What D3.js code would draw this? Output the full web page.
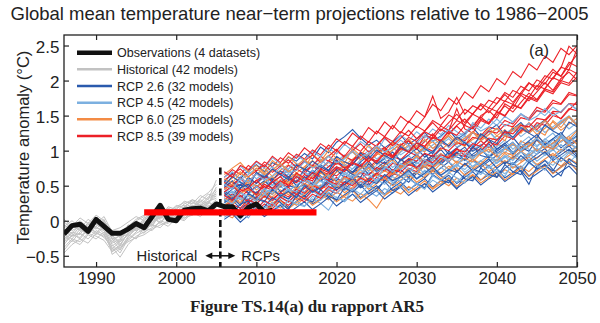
<!DOCTYPE html>
<html>
<head>
<meta charset="utf-8">
<script src="https://cdn.jsdelivr.net/npm/d3@7"></script>
<style>
  html, body { margin: 0; padding: 0; background: #fff; }
  svg { display: block; font-family: "Liberation Sans", Arial, sans-serif; }
</style>
</head>
<body>
<svg id="chart" width="600" height="323"></svg>
<script>
// values (°C, relative to 1986-2005)
const histStart = 1986;
const rcpStart = 2006;

const observations = [-0.19,-0.07,-0.05,-0.15,0.02,-0.08,-0.18,-0.18,-0.12,-0.04,-0.10,0.06,0.22,0.02,0.00,0.15,0.17,0.18,0.14,0.24,0.20,0.20,0.07,0.19,0.24,0.12,0.15];

const histModels = [
  [-0.10,-0.04,-0.12,0.02,-0.06,-0.02,-0.22,-0.30,-0.12,-0.04,-0.10,0.04,0.08,0.02,0.14,0.10,0.22,0.16,0.28,0.32],
  [-0.30,-0.22,-0.18,-0.26,-0.14,-0.20,-0.42,-0.36,-0.28,-0.18,-0.12,-0.06,-0.10,0.02,0.04,0.10,0.08,0.18,0.14,0.22],
  [0.02,-0.08,0.04,-0.04,0.08,0.00,-0.14,-0.10,-0.02,0.06,0.00,0.12,0.18,0.10,0.22,0.18,0.30,0.26,0.38,0.34],
  [-0.42,-0.28,-0.34,-0.20,-0.26,-0.16,-0.38,-0.52,-0.34,-0.22,-0.16,-0.10,-0.02,-0.08,0.04,0.00,0.12,0.06,0.16,0.12],
  [-0.18,-0.10,-0.02,-0.12,0.00,-0.10,-0.30,-0.20,-0.14,0.00,0.06,-0.04,0.12,0.16,0.08,0.20,0.14,0.28,0.20,0.30],
  [-0.22,-0.30,-0.16,-0.08,-0.18,-0.04,-0.48,-0.40,-0.22,-0.12,-0.02,0.06,-0.04,0.10,0.16,0.06,0.20,0.24,0.18,0.26],
  [-0.06,-0.14,-0.08,-0.16,-0.02,-0.12,-0.20,-0.34,-0.18,-0.10,0.02,0.08,0.02,0.14,0.20,0.26,0.18,0.32,0.40,0.52],
  [-0.34,-0.20,-0.24,-0.10,-0.16,-0.24,-0.36,-0.28,-0.06,-0.14,-0.08,0.00,0.06,0.00,0.12,0.16,0.10,0.14,0.26,0.20],
  [-0.12,-0.18,-0.06,-0.14,-0.08,0.02,-0.26,-0.22,-0.20,-0.06,-0.12,0.10,0.04,0.18,0.12,0.24,0.30,0.22,0.34,0.44],
  [-0.26,-0.16,-0.20,-0.02,-0.10,-0.14,-0.34,-0.46,-0.26,-0.16,-0.04,-0.08,0.10,0.06,0.02,0.12,0.22,0.18,0.10,0.24],
  [-0.08,0.00,-0.10,-0.06,0.04,-0.06,-0.18,-0.16,-0.08,0.02,0.08,0.14,0.06,0.20,0.16,0.28,0.24,0.36,0.30,0.58],
  [-0.38,-0.26,-0.30,-0.18,-0.22,-0.28,-0.44,-0.38,-0.30,-0.24,-0.20,-0.12,-0.06,-0.02,0.06,0.02,0.16,0.10,0.22,0.16],
  [-0.14,-0.22,-0.08,-0.16,-0.04,-0.14,-0.32,-0.26,-0.10,-0.14,0.00,-0.06,0.10,0.04,0.16,0.10,0.26,0.20,0.32,0.38],
  [-0.28,-0.18,-0.26,-0.12,-0.20,-0.08,-0.26,-0.42,-0.24,-0.08,-0.14,0.04,-0.02,0.08,0.02,0.18,0.12,0.22,0.28,0.18],
  [-0.02,-0.10,0.00,-0.10,-0.04,0.06,-0.16,-0.24,-0.06,-0.12,0.04,0.10,0.14,0.08,0.18,0.22,0.16,0.30,0.24,0.42],
  [-0.46,-0.34,-0.26,-0.32,-0.18,-0.22,-0.40,-0.30,-0.20,-0.26,-0.10,-0.14,0.00,-0.04,0.08,0.04,0.08,0.16,0.12,0.28],
  [-0.16,-0.06,-0.14,-0.04,-0.12,0.00,-0.24,-0.36,-0.16,-0.02,-0.06,0.08,0.14,0.06,0.10,0.20,0.28,0.20,0.26,0.36],
  [-0.20,-0.26,-0.12,-0.20,-0.08,-0.18,-0.44,-0.34,-0.18,-0.10,-0.18,-0.02,0.04,0.12,0.04,0.14,0.18,0.12,0.24,0.48]
];

const rcp26 = [
  [0.42,0.35,0.51,0.47,0.38,0.55,0.61,0.48,0.57,0.66,0.59,0.72,0.64,0.55,0.70,0.78,0.69,0.74,0.85,0.72,0.80,0.91,0.77,0.86,0.95,0.83,0.90,1.02,0.88,0.97,1.05,0.92,0.99,1.10,0.96,1.04,1.12,0.98,1.07,1.15,1.03,1.11,1.20,1.06,1.14],
  [0.12,0.20,0.08,0.18,0.25,0.15,0.22,0.30,0.19,0.28,0.36,0.24,0.31,0.40,0.29,0.37,0.45,0.33,0.42,0.50,0.38,0.47,0.55,0.44,0.52,0.60,0.48,0.57,0.65,0.53,0.62,0.70,0.58,0.66,0.74,0.61,0.69,0.78,0.64,0.73,0.81,0.68,0.77,0.85,0.72],
  [0.55,0.68,0.60,0.72,0.80,0.70,0.83,0.77,0.91,0.85,0.96,0.88,1.05,0.97,1.12,1.20,1.30,1.18,1.08,1.15,1.04,1.12,1.22,1.09,1.17,1.26,1.13,1.21,1.30,1.16,1.24,1.33,1.20,1.29,1.37,1.22,1.31,1.40,1.27,1.35,1.44,1.30,1.39,1.48,1.36],
  [0.30,0.24,0.36,0.29,0.41,0.35,0.44,0.38,0.31,0.46,0.52,0.43,0.49,0.58,0.47,0.55,0.63,0.51,0.60,0.68,0.57,0.65,0.73,0.62,0.70,0.78,0.66,0.75,0.84,0.71,0.80,0.88,0.76,0.85,0.93,0.81,0.90,0.99,0.86,0.95,1.03,0.89,0.98,1.07,0.94],
  [0.22,0.30,0.17,0.26,0.34,0.28,0.20,0.36,0.31,0.42,0.35,0.46,0.39,0.33,0.48,0.44,0.56,0.47,0.53,0.42,0.58,0.51,0.63,0.55,0.68,0.61,0.72,0.64,0.57,0.45,0.66,0.74,0.69,0.79,0.62,0.75,0.83,0.70,0.52,0.78,0.86,0.73,0.64,0.88,0.80],
  [0.48,0.57,0.45,0.62,0.53,0.66,0.58,0.71,0.63,0.55,0.74,0.67,0.80,0.72,0.86,0.77,0.69,0.84,0.93,0.81,0.89,0.98,0.86,0.94,1.03,0.91,0.99,1.08,0.95,1.04,1.12,0.99,1.07,1.16,1.02,1.10,1.19,1.05,1.14,1.23,1.09,1.17,1.26,1.12,1.21],
  [0.02,0.10,-0.02,0.08,0.15,0.06,0.14,0.22,0.11,0.19,0.27,0.16,0.24,0.33,0.21,0.30,0.38,0.26,0.35,0.43,0.31,0.40,0.48,0.36,0.45,0.53,0.41,0.50,0.58,0.46,0.55,0.63,0.51,0.60,0.68,0.56,0.64,0.72,0.59,0.67,0.75,0.62,0.70,0.78,0.66],
  [0.35,0.45,0.52,0.40,0.48,0.57,0.46,0.54,0.63,0.50,0.59,0.68,0.56,0.65,0.73,0.61,0.70,0.79,0.66,0.75,0.84,0.71,0.80,0.88,0.76,0.85,0.93,0.81,0.90,0.98,0.86,0.95,1.03,0.90,0.99,1.08,0.95,1.04,1.12,0.99,1.08,1.17,1.04,1.13,1.21],
  [0.40,0.29,0.47,0.52,0.36,0.44,0.58,0.41,0.50,0.47,0.63,0.52,0.71,0.60,0.57,0.74,0.66,0.62,0.81,0.70,0.77,0.69,0.88,0.79,0.85,0.96,0.80,0.84,0.99,0.91,0.87,1.06,0.93,0.90,1.02,1.11,0.97,1.05,0.99,1.16,1.08,1.02,1.19,1.10,1.15],
  [0.18,0.09,0.24,0.28,0.13,0.20,0.33,0.26,0.16,0.37,0.31,0.27,0.44,0.35,0.30,0.47,0.41,0.51,0.38,0.46,0.56,0.43,0.49,0.61,0.52,0.47,0.66,0.58,0.54,0.71,0.60,0.57,0.75,0.66,0.62,0.80,0.70,0.66,0.84,0.74,0.79,0.71,0.90,0.81,0.77],
  [0.50,0.63,0.55,0.47,0.69,0.62,0.74,0.66,0.59,0.80,0.73,0.85,0.77,0.71,0.92,0.84,0.79,0.97,0.88,1.01,0.93,0.87,1.06,0.98,1.12,1.03,0.96,1.15,1.07,1.20,1.11,1.04,1.24,1.16,1.10,1.29,1.19,1.33,1.25,1.18,1.37,1.28,1.22,1.41,1.34],
  [0.26,0.33,0.22,0.39,0.31,0.27,0.45,0.35,0.42,0.33,0.50,0.41,0.47,0.55,0.44,0.52,0.61,0.48,0.58,0.53,0.66,0.57,0.63,0.72,0.60,0.68,0.77,0.65,0.73,0.69,0.82,0.71,0.79,0.88,0.75,0.84,0.80,0.93,0.83,0.90,0.98,0.86,0.94,1.02,0.91]
];

const rcp45 = [
  [0.28,0.36,0.25,0.39,0.33,0.44,0.37,0.49,0.41,0.35,0.52,0.46,0.58,0.50,0.61,0.55,0.66,0.59,0.70,0.63,0.74,0.67,0.79,0.71,0.83,0.76,0.87,0.80,0.91,0.84,0.95,0.88,1.00,0.92,1.04,0.97,1.09,1.01,1.13,1.05,1.17,1.09,1.21,1.14,1.25],
  [0.58,0.50,0.63,0.71,0.60,0.68,0.77,0.65,0.74,0.82,0.71,0.80,0.88,0.77,0.85,0.94,0.83,0.91,1.00,0.88,0.97,1.05,0.94,1.02,1.11,0.99,1.08,1.16,1.04,1.13,1.21,1.10,1.18,1.27,1.15,1.24,1.32,1.20,1.29,1.37,1.26,1.34,1.43,1.31,1.40],
  [0.05,0.12,0.02,0.15,0.09,0.20,0.14,0.24,0.17,0.28,0.21,0.31,0.25,0.15,0.34,0.27,0.38,0.31,0.42,0.35,0.46,0.39,0.50,0.43,0.54,0.47,0.58,0.51,0.62,0.55,0.66,0.59,0.70,0.63,0.74,0.67,0.78,0.71,0.82,0.75,0.86,0.79,0.90,0.83,0.94],
  [0.40,0.48,0.56,0.45,0.53,0.62,0.50,0.58,0.67,0.55,0.63,0.72,0.60,0.69,0.77,0.65,0.74,0.83,0.71,0.79,0.88,0.76,0.85,0.93,0.81,0.90,0.99,0.87,0.95,1.04,0.92,1.01,1.09,0.97,1.06,1.15,1.02,1.11,1.20,1.07,1.16,1.25,1.12,1.21,1.30],
  [0.70,0.62,0.78,0.68,0.84,0.75,0.90,0.81,0.73,0.93,0.86,0.99,0.91,1.04,0.95,1.09,1.00,1.13,1.05,0.98,1.17,1.09,1.22,1.14,1.27,1.18,1.31,1.23,1.36,1.27,1.21,1.40,1.32,1.45,1.36,1.49,1.41,1.53,1.45,1.58,1.50,1.62,1.54,1.67,1.59],
  [0.18,0.26,0.34,0.22,0.31,0.39,0.28,0.36,0.44,0.33,0.41,0.50,0.38,0.46,0.55,0.43,0.52,0.60,0.48,0.57,0.65,0.54,0.62,0.70,0.59,0.67,0.76,0.64,0.72,0.81,0.69,0.78,0.86,0.75,0.83,0.92,0.80,0.88,0.97,0.85,0.94,1.02,0.90,0.99,1.07],
  [0.45,0.39,0.52,0.60,0.49,0.57,0.51,0.64,0.72,0.61,0.69,0.63,0.76,0.84,0.72,0.80,0.74,0.87,0.95,0.83,0.91,0.85,0.98,1.06,0.94,1.02,0.96,1.09,1.17,1.05,1.13,1.07,1.20,1.28,1.16,1.24,1.18,1.31,1.39,1.27,1.35,1.29,1.42,1.50,1.38],
  [0.25,0.33,0.40,0.31,0.22,0.38,0.46,0.35,0.43,0.50,0.41,0.49,0.57,0.46,0.53,0.61,0.52,0.59,0.67,0.56,0.64,0.72,0.62,0.69,0.78,0.67,0.75,0.83,0.72,0.80,0.88,0.77,0.85,0.94,0.82,0.90,0.99,0.87,0.96,1.04,0.93,1.01,1.09,0.98,1.06],
  [0.62,0.70,0.58,0.66,0.75,0.64,0.73,0.81,0.70,0.79,0.87,0.76,0.84,0.93,0.81,0.90,0.98,0.87,0.95,1.04,0.92,1.01,1.09,0.98,1.06,1.15,1.03,1.12,1.20,1.09,1.17,1.26,1.14,1.23,1.31,1.20,1.28,1.37,1.25,1.34,1.42,1.31,1.39,1.48,1.36],
  [0.12,0.20,0.10,0.23,0.17,0.28,0.21,0.33,0.26,0.37,0.30,0.42,0.35,0.46,0.39,0.50,0.43,0.55,0.48,0.59,0.52,0.63,0.56,0.67,0.60,0.72,0.65,0.76,0.69,0.80,0.73,0.85,0.78,0.89,0.82,0.93,0.86,0.98,0.91,1.02,0.95,1.06,0.99,1.11,1.04],
  [0.33,0.42,0.30,0.37,0.49,0.40,0.46,0.55,0.43,0.51,0.60,0.54,0.48,0.65,0.59,0.70,0.62,0.67,0.78,0.69,0.75,0.84,0.73,0.81,0.90,0.79,0.87,0.95,0.85,0.92,1.01,0.89,0.98,1.07,0.95,1.03,1.12,1.00,1.09,1.18,1.06,1.15,1.23,1.12,1.20],
  [0.08,0.17,0.13,0.04,0.21,0.18,0.26,0.13,0.30,0.24,0.20,0.35,0.29,0.41,0.33,0.28,0.46,0.38,0.51,0.42,0.37,0.55,0.47,0.60,0.52,0.45,0.64,0.57,0.69,0.61,0.54,0.73,0.66,0.78,0.70,0.63,0.83,0.75,0.88,0.79,0.72,0.92,0.84,0.97,0.89],
  [0.52,0.45,0.60,0.55,0.67,0.58,0.64,0.76,0.68,0.72,0.84,0.75,0.80,0.92,0.83,0.88,1.00,0.91,0.96,1.07,0.98,1.04,1.15,1.06,1.11,1.22,1.13,1.19,1.30,1.20,1.26,1.37,1.28,1.34,1.45,1.35,1.41,1.52,1.43,1.49,1.60,1.50,1.56,1.67,1.58],
  [0.31,0.24,0.40,0.35,0.28,0.46,0.39,0.52,0.45,0.41,0.57,0.50,0.63,0.55,0.49,0.67,0.60,0.73,0.64,0.58,0.77,0.70,0.82,0.74,0.68,0.87,0.79,0.92,0.83,0.77,0.96,0.88,1.01,0.93,0.86,1.05,0.97,1.10,1.02,0.95,1.14,1.06,1.19,1.11,1.04]
];

const rcp60 = [
  [0.27,0.35,0.22,0.31,0.40,0.33,0.42,0.36,0.45,0.39,0.48,0.41,0.51,0.44,0.55,0.48,0.58,0.51,0.61,0.55,0.64,0.58,0.68,0.61,0.71,0.65,0.74,0.68,0.78,0.71,0.81,0.75,0.85,0.78,0.88,0.82,0.92,0.85,0.95,0.89,0.99,0.92,1.02,0.96,1.06],
  [0.10,0.04,0.16,0.09,0.20,0.14,0.25,0.18,0.29,0.22,0.33,0.26,0.37,0.30,0.41,0.34,0.28,0.39,0.30,0.18,0.36,0.44,0.38,0.49,0.42,0.53,0.46,0.57,0.50,0.61,0.54,0.65,0.58,0.69,0.62,0.73,0.66,0.77,0.70,0.81,0.74,0.85,0.78,0.89,0.82],
  [0.52,0.61,0.70,0.57,0.66,0.75,0.63,0.72,0.80,0.68,0.77,0.86,0.74,0.83,0.91,0.79,0.88,0.97,0.85,0.94,1.02,0.90,0.99,1.08,0.96,1.05,1.13,1.01,1.10,1.19,1.07,1.16,1.24,1.12,1.21,1.30,1.18,1.27,1.35,1.23,1.32,1.41,1.29,1.38,1.46],
  [0.40,0.33,0.47,0.55,0.44,0.52,0.46,0.59,0.53,0.66,0.58,0.51,0.68,0.62,0.75,0.67,0.60,0.78,0.71,0.84,0.76,0.69,0.87,0.80,0.93,0.85,0.78,0.96,0.89,1.02,0.94,0.87,1.05,0.98,1.11,1.03,0.96,1.14,1.07,1.20,1.12,1.05,1.23,1.16,1.29],
  [0.15,0.23,0.31,0.20,0.28,0.36,0.25,0.33,0.41,0.30,0.38,0.46,0.35,0.43,0.51,0.40,0.48,0.56,0.45,0.53,0.61,0.50,0.58,0.66,0.55,0.63,0.71,0.60,0.68,0.76,0.65,0.73,0.81,0.70,0.78,0.86,0.75,0.83,0.91,0.80,0.88,0.96,0.85,0.93,1.01],
  [0.66,0.75,0.83,0.70,0.79,0.68,0.86,0.77,0.92,0.81,0.74,0.95,0.85,1.00,0.89,0.82,1.03,0.93,1.08,0.97,0.90,1.11,1.01,1.16,1.05,0.98,1.19,1.09,1.24,1.13,1.06,1.27,1.17,1.32,1.21,1.14,1.35,1.25,1.40,1.29,1.22,1.43,1.33,1.48,1.37],
  [0.22,0.30,0.26,0.37,0.29,0.40,0.34,0.44,0.37,0.48,0.41,0.52,0.45,0.56,0.49,0.60,0.53,0.63,0.56,0.67,0.60,0.70,0.63,0.74,0.67,0.78,0.70,0.81,0.74,0.85,0.78,0.88,0.81,0.92,0.85,0.96,0.88,0.99,0.92,1.03,0.96,1.06,0.99,1.10,1.03],
  [0.45,0.52,0.41,0.58,0.49,0.55,0.63,0.53,0.60,0.68,0.57,0.64,0.73,0.62,0.69,0.78,0.66,0.74,0.82,0.71,0.79,0.87,0.75,0.83,0.92,0.80,0.88,0.96,0.85,0.93,1.01,0.89,0.97,1.06,0.94,1.02,1.10,0.98,1.06,1.15,1.03,1.11,1.19,1.07,1.16],
  [0.12,0.19,0.08,0.16,0.24,0.13,0.21,0.29,0.17,0.26,0.33,0.22,0.30,0.38,0.27,0.35,0.43,0.31,0.39,0.47,0.36,0.44,0.52,0.40,0.48,0.57,0.45,0.53,0.61,0.49,0.58,0.66,0.54,0.62,0.70,0.58,0.67,0.75,0.63,0.71,0.79,0.67,0.76,0.84,0.72],
  [0.60,0.54,0.68,0.62,0.75,0.66,0.72,0.82,0.70,0.78,0.88,0.76,0.84,0.93,0.81,0.90,0.99,0.87,0.95,1.05,0.92,1.01,1.10,0.98,1.07,1.16,1.03,1.12,1.21,1.09,1.18,1.27,1.14,1.23,1.32,1.20,1.29,1.38,1.25,1.34,1.43,1.31,1.40,1.49,1.36],
  [0.32,0.26,0.39,0.45,0.36,0.43,0.38,0.50,0.56,0.46,0.53,0.48,0.60,0.66,0.55,0.62,0.57,0.69,0.75,0.64,0.71,0.66,0.78,0.84,0.73,0.80,0.75,0.87,0.93,0.82,0.89,0.84,0.96,1.02,0.91,0.98,0.93,1.05,1.11,1.00,1.07,1.02,1.14,1.20,1.09]
];

const rcp85 = [
  [0.30,0.38,0.33,0.44,0.40,0.49,0.43,0.53,0.48,0.58,0.52,0.63,0.57,0.69,0.64,0.74,0.68,0.80,0.75,0.86,0.81,0.92,0.87,0.98,0.93,1.05,0.99,1.12,1.06,1.19,1.14,1.26,1.21,1.34,1.30,1.43,1.38,1.52,1.46,1.62,1.57,1.72,1.67,1.83,1.79],
  [0.62,0.73,0.66,0.79,0.71,0.84,0.77,0.90,0.82,0.95,0.88,1.01,0.94,1.08,1.00,1.13,1.06,1.21,1.12,1.28,1.20,1.36,1.25,1.42,1.33,1.48,1.78,1.46,1.55,1.76,1.52,1.64,1.58,1.72,1.67,1.83,1.76,1.92,1.85,2.01,1.95,2.12,2.06,2.26,2.20],
  [0.45,0.52,0.60,0.49,0.57,0.65,0.55,0.63,0.72,0.61,0.70,0.79,0.68,0.77,0.87,0.75,0.85,0.95,0.84,0.94,1.04,0.93,1.03,1.14,1.02,1.13,1.24,1.12,1.23,1.35,1.24,1.36,1.48,1.38,1.51,1.64,1.55,1.69,1.82,1.73,1.89,2.04,2.18,2.49,2.38],
  [0.55,0.47,0.61,0.54,0.68,0.60,0.73,0.66,0.79,0.72,0.85,0.78,0.92,0.85,0.99,0.92,1.06,0.99,1.13,1.06,1.20,1.13,1.27,1.21,1.35,1.28,1.43,1.36,1.51,1.44,1.59,1.52,1.67,1.61,1.76,1.70,1.86,1.80,1.96,1.91,2.07,2.02,2.19,2.15,2.45],
  [0.08,0.15,0.06,0.19,0.13,0.24,0.17,0.29,0.22,0.33,0.27,0.38,0.32,0.44,0.39,0.50,0.45,0.56,0.51,0.62,0.57,0.68,0.63,0.75,0.70,0.81,0.77,0.89,0.84,0.96,0.91,1.04,0.99,1.12,1.08,1.21,1.17,1.30,1.26,1.40,1.36,1.50,1.46,1.60,1.57],
  [0.47,0.56,0.50,0.60,0.54,0.63,0.58,0.68,0.62,0.74,0.67,0.79,0.73,0.85,0.80,0.92,0.86,0.98,0.93,1.05,1.00,1.12,1.07,1.19,1.13,1.27,1.21,1.35,1.29,1.43,1.37,1.52,1.46,1.61,1.56,1.71,1.66,1.82,1.76,1.93,1.88,2.04,1.99,2.16,2.10],
  [0.20,0.28,0.36,0.26,0.34,0.42,0.31,0.40,0.48,0.37,0.46,0.55,0.44,0.53,0.62,0.51,0.60,0.69,0.58,0.67,0.77,0.66,0.75,0.85,0.74,0.84,0.94,0.83,0.93,1.03,0.93,1.04,1.14,1.04,1.15,1.26,1.16,1.28,1.39,1.30,1.42,1.54,1.45,1.58,1.70],
  [0.38,0.31,0.45,0.39,0.50,0.44,0.55,0.49,0.60,0.54,0.66,0.60,0.71,0.66,0.77,0.72,0.84,0.78,0.91,0.85,0.97,0.92,1.04,0.99,1.12,1.06,1.20,1.14,1.28,1.60,1.31,1.25,1.43,1.38,1.56,1.50,1.66,1.61,1.77,1.72,1.88,1.84,2.00,1.96,2.12],
  [0.58,0.66,0.74,0.63,0.71,0.80,0.69,0.78,0.87,0.76,0.85,0.94,0.83,0.92,1.02,0.90,1.00,1.10,0.98,1.08,1.19,1.07,1.18,1.29,1.17,1.28,1.40,1.28,1.40,1.52,1.40,1.53,1.65,1.54,1.67,1.80,1.69,1.83,1.97,1.87,2.02,2.16,2.06,2.22,2.37],
  [0.15,0.23,0.18,0.30,0.24,0.35,0.29,0.40,0.34,0.45,0.39,0.50,0.45,0.57,0.52,0.63,0.58,0.69,0.65,0.76,0.71,0.82,0.78,0.89,0.85,0.96,0.92,1.04,1.00,1.11,1.08,1.19,1.16,1.28,1.25,1.37,1.34,1.47,1.44,1.57,1.55,1.68,1.66,1.80,1.78],
  [0.41,0.50,0.39,0.47,0.58,0.46,0.55,0.63,0.50,0.68,0.61,0.57,0.74,0.69,0.83,0.75,0.81,0.93,0.84,0.97,1.05,0.92,1.08,1.14,1.02,1.22,1.17,1.31,1.24,1.36,1.45,1.33,1.50,1.57,1.46,1.67,1.60,1.79,1.71,1.84,1.97,1.86,2.03,2.12,2.01],
  [0.10,0.19,0.14,0.25,0.16,0.29,0.22,0.34,0.27,0.38,0.31,0.44,0.37,0.49,0.43,0.55,0.50,0.61,0.55,0.68,0.62,0.73,0.69,0.80,0.76,0.87,0.83,0.94,0.90,1.02,0.98,1.10,1.06,1.18,1.15,1.27,1.24,1.36,1.34,1.46,1.44,1.56,1.55,1.67,1.66],
  [0.70,0.62,0.79,0.73,0.85,0.77,0.92,0.83,0.97,0.89,1.04,0.95,1.10,1.02,1.17,1.09,1.25,1.16,1.33,1.24,1.41,1.31,1.49,1.40,1.57,1.48,1.66,1.57,1.75,1.66,1.84,1.75,1.93,1.84,2.03,1.94,2.13,2.04,2.24,2.15,2.35,2.26,2.46,2.37,2.50],
  [0.36,0.29,0.42,0.47,0.37,0.52,0.46,0.57,0.50,0.63,0.56,0.69,0.62,0.58,0.75,0.70,0.82,0.77,0.89,0.83,0.96,0.90,1.03,0.98,1.11,1.06,1.19,1.14,1.27,1.22,1.36,1.31,1.45,1.40,1.55,1.49,1.65,1.60,1.75,1.70,1.86,1.81,1.97,1.93,2.05]
];

const legendLabels = ["Observations (4 datasets)", "Historical (42 models)", "RCP 2.6 (32 models)", "RCP 4.5 (42 models)", "RCP 6.0 (25 models)", "RCP 8.5 (39 models)"];
const xTicks = [1990, 2000, 2010, 2020, 2030, 2040, 2050];
const yTicks = [-0.5, 0, 0.5, 1, 1.5, 2, 2.5];
const dividerYear = 2005.5;
const pauseYears = [1996, 2017.5];
const pauseValue = 0.12;

const colours = {
    obs: "#111111",
    hist: "#c2c2c2",
    rcp26: "#2a5aad",
    rcp45: "#7cb0e0",
    rcp60: "#f38b45",
    rcp85: "#ec2027"
};

const svg = d3.select("#chart");
const margin = { top: 35, right: 23, bottom: 56, left: 64 };
const width = 600 - margin.left - margin.right;
const height = 323 - margin.top - margin.bottom;

const xScale = d3.scaleLinear().domain([1986, 2050]).range([0, width]);
const yScale = d3.scaleLinear().domain([-0.66, 2.65]).range([height, 0]);

svg.append("text")
    .attr("x", 10.5)
    .attr("y", 20)
    .attr("font-size", 18.5)
    .attr("fill", "#222")
    .text("Global mean temperature near\u2212term projections relative to 1986\u22122005");

const chartArea = svg.append("g")
    .attr("transform", `translate(${margin.left},${margin.top})`);

chartArea.append("clipPath").attr("id", "plot-clip")
    .append("rect").attr("width", width).attr("height", height);

const plot = chartArea.append("g").attr("clip-path", "url(#plot-clip)");

const lineFrom = start => d3.line()
    .x((d, i) => xScale(start + i))
    .y(d => yScale(d));

plot.selectAll("path.hist")
    .data(histModels)
    .join("path")
    .attr("class", "hist")
    .attr("d", lineFrom(histStart))
    .attr("fill", "none")
    .attr("stroke", colours.hist)
    .attr("stroke-width", 1);

// interleave the scenarios so no colour sits fully on top
const scenarios = [["rcp85", rcp85], ["rcp26", rcp26], ["rcp60", rcp60], ["rcp45", rcp45]];
const rcpRuns = [];
d3.range(d3.max(scenarios, s => s[1].length)).forEach(i => {
    scenarios.forEach(([key, runs]) => {
        if (runs[i]) rcpRuns.push({ key: key, values: runs[i] });
    });
});

plot.selectAll("path.rcp")
    .data(rcpRuns)
    .join("path")
    .attr("class", "rcp")
    .attr("d", d => lineFrom(rcpStart)(d.values))
    .attr("fill", "none")
    .attr("stroke", d => colours[d.key])
    .attr("stroke-width", 1.1);

plot.append("path")
    .datum(observations)
    .attr("d", lineFrom(histStart))
    .attr("fill", "none")
    .attr("stroke", colours.obs)
    .attr("stroke-width", 5)
    .attr("stroke-linejoin", "round");

// historical / RCP divider
chartArea.append("line")
    .attr("x1", xScale(dividerYear)).attr("x2", xScale(dividerYear))
    .attr("y1", yScale(0.76)).attr("y2", height)
    .attr("stroke", "#111")
    .attr("stroke-width", 2.6)
    .attr("stroke-dasharray", "7,3.5");

const arrowY = yScale(-0.5);
const ax1 = xScale(dividerYear) - 15, ax2 = xScale(dividerYear) + 15;
chartArea.append("line")
    .attr("x1", ax1 + 5).attr("x2", ax2 - 5)
    .attr("y1", arrowY).attr("y2", arrowY)
    .attr("stroke", "#111").attr("stroke-width", 1.5);
chartArea.append("path")
    .attr("d", `M${ax1},${arrowY}l7,-3.2v6.4z M${ax2},${arrowY}l-7,-3.2v6.4z`)
    .attr("fill", "#111");

chartArea.append("text")
    .attr("x", xScale(dividerYear) - 23)
    .attr("y", arrowY)
    .attr("dy", "0.35em")
    .attr("text-anchor", "end")
    .attr("font-size", 14.8)
    .attr("fill", "#222")
    .text("Historical");

chartArea.append("text")
    .attr("x", xScale(dividerYear) + 21)
    .attr("y", arrowY)
    .attr("dy", "0.35em")
    .attr("font-size", 14.8)
    .attr("fill", "#222")
    .text("RCPs");

// red bar drawn over the figure
chartArea.append("line")
    .attr("x1", xScale(pauseYears[0])).attr("x2", xScale(pauseYears[1]))
    .attr("y1", yScale(pauseValue)).attr("y2", yScale(pauseValue))
    .attr("stroke", "#ff0000")
    .attr("stroke-width", 6.3);

// axes, ticks pointing inwards
const fmt = d => (d < 0 ? "\u2212" : "") + Math.abs(d);

const styleAxis = g => {
    g.select(".domain").remove();
    g.selectAll(".tick line").attr("stroke", "#222").attr("stroke-width", 1.2);
    g.selectAll(".tick text").attr("fill", "#222").attr("font-size", 17)
        .attr("font-family", "Liberation Sans, Arial, sans-serif");
};

chartArea.append("g")
    .attr("transform", `translate(0,${height})`)
    .call(d3.axisBottom(xScale).tickValues(xTicks).tickSize(-5).tickPadding(4.5).tickFormat(d3.format("d")))
    .call(styleAxis);

chartArea.append("g")
    .call(d3.axisTop(xScale).tickValues(xTicks).tickSize(-5).tickFormat(""))
    .call(styleAxis);

chartArea.append("g")
    .call(d3.axisLeft(yScale).tickValues(yTicks).tickSize(-5).tickPadding(4.5).tickFormat(fmt))
    .call(styleAxis)
    .selectAll(".tick text").attr("dy", "0.4em");

chartArea.append("g")
    .attr("transform", `translate(${width},0)`)
    .call(d3.axisRight(yScale).tickValues(yTicks).tickSize(-5).tickFormat(""))
    .call(styleAxis);

chartArea.append("rect")
    .attr("width", width)
    .attr("height", height)
    .attr("fill", "none")
    .attr("stroke", "#222")
    .attr("stroke-width", 1.3);

chartArea.append("text")
    .attr("x", xScale(2044))
    .attr("y", 20.5)
    .attr("font-size", 16.5)
    .attr("fill", "#222")
    .text("(a)");

svg.append("text")
    .attr("transform", `translate(28.5,${margin.top + 112.5})rotate(-90)`)
    .attr("text-anchor", "middle")
    .attr("font-size", 16.5)
    .attr("fill", "#222")
    .text("Temperature anomaly (\u00b0C)");

// legend
const legendKeys = ["obs", "hist", "rcp26", "rcp45", "rcp60", "rcp85"];
const legendY = d3.scalePoint().domain(legendLabels).range([17.7, 101]);
const legend = chartArea.append("g").attr("transform", "translate(13,0)");

legend.selectAll("line")
    .data(legendLabels)
    .join("line")
    .attr("x1", 0).attr("x2", 35)
    .attr("y1", d => legendY(d)).attr("y2", d => legendY(d))
    .attr("stroke", (d, i) => colours[legendKeys[i]])
    .attr("stroke-width", (d, i) => i === 0 ? 4.5 : 2.5);

legend.selectAll("text")
    .data(legendLabels)
    .join("text")
    .attr("x", 40)
    .attr("y", d => legendY(d))
    .attr("dy", "0.36em")
    .attr("font-size", 12.5)
    .attr("fill", "#222")
    .text(d => d);

svg.append("text")
    .attr("x", 307)
    .attr("y", 311.5)
    .attr("text-anchor", "middle")
    .attr("font-family", "Liberation Serif, serif")
    .attr("font-weight", "bold")
    .attr("font-size", 17)
    .attr("fill", "#222")
    .text("Figure TS.14(a) du rapport AR5");
</script>
</body>
</html>
